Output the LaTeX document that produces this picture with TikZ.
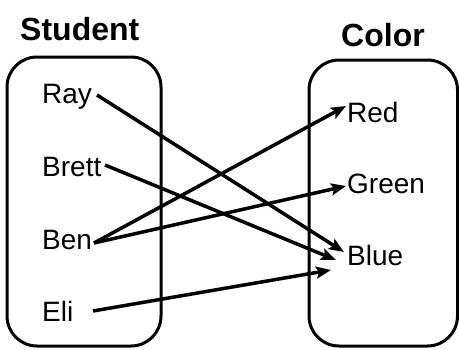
\documentclass[tikz,border=0pt]{standalone}
\usepackage{fontspec}
\setmainfont{Liberation Sans}
\usetikzlibrary{arrows.meta}
\begin{document}
\begin{tikzpicture}[x=1pt,y=-1pt,
  setbox/.style={draw=black,line width=3pt,rounded corners=30pt},
  title/.style={font=\fontsize{32}{36}\selectfont\bfseries,inner sep=0pt,anchor=base west},
  item/.style={font=\fontsize{28}{32}\selectfont,inner sep=0pt,anchor=base west},
  link/.style={line width=3.5pt,-{Stealth[length=15pt,width=12pt,inset=3pt]}}]
\useasboundingbox (0,0) rectangle (459,349);
\node[title] (student) at (20,40) {Student};
\node[title] (color) at (341,46) {Color};
\draw[setbox] (7,57) rectangle (161,346);
\draw[setbox] (309,60) rectangle (457.5,346);
\node[item] (ray) at (42,103) {Ray};
\node[item] (brett) at (42,176) {Brett};
\node[item] (ben) at (42,249) {Ben};
\node[item] (eli) at (42,321) {Eli};
\node[item] (red) at (347,122) {Red};
\node[item] (green) at (347,193) {Green};
\node[item] (blue) at (347,265) {Blue};
\coordinate (rayR) at (97,95);
\coordinate (brettR) at (105,165);
\coordinate (benR) at (94,243);
\coordinate (eliR) at (93,311);
\coordinate (redL) at (346,106);
\coordinate (greenL) at (346,186);
\coordinate (blueA) at (344,252);
\coordinate (blueB) at (336,260);
\coordinate (blueC) at (331,270);
\draw[link] (rayR) -- (blueA);
\draw[link] (brettR) -- (blueB);
\draw[link] (benR) -- (redL);
\draw[link] (benR) -- (greenL);
\draw[link] (eliR) -- (blueC);
\end{tikzpicture}
\end{document}
